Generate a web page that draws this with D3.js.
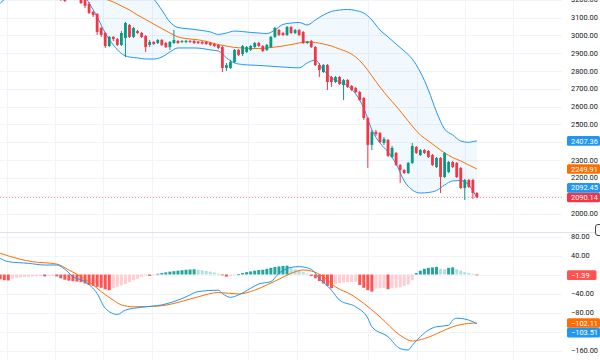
<!DOCTYPE html>
<html><head><meta charset="utf-8">
<script src="https://cdn.jsdelivr.net/npm/d3@7/dist/d3.min.js"></script>
<style>body{margin:0;background:#fff}svg{display:block;font-family:Roboto,"Liberation Sans",sans-serif}</style>
</head><body><svg id="c" width="600" height="360"></svg>
<script>
// ---------------- DATA ----------------
const barCount = 119;               // bars 0..118
const candleFirstBar = 15;          // first candle (earlier ones are above the view)
const opens = [3221,3215,3228,3230,3226,3209,3198,3176,3131,3120,
 3041,3013,2940,2991,2979,2946,2985,3058,2991,3024,
 3013,2996,2946,2963,2957,2974,2957,2934,2957,2968,
 2963,2962,2968,2968,2965,2963,2963,2957,2951,2946,
 2934,2817,2817,2850,2918,2895,2906,2918,2934,2957,
 2940,2918,2934,2991,3030,3013,3002,3047,3013,3030,
 3019,2957,2968,2934,2833,2794,2833,2766,2738,2766,
 2721,2749,2716,2704,2682,2648,2536,2385,2458,2452,
 2396,2413,2317,2340,2272,2244,2227,2284,2373,2328,
 2356,2351,2328,2261,2312,2205,2233,2289,2284,2255,
 2143,2188,2188,2115];
const highs = [3232,3226,3240,3238,3235,3221,3209,3187,3137,3125,
 3047,3019,2996,2996,2985,3024,3075,3064,3047,3030,
 3019,3002,2974,2968,2979,2979,2963,2968,3030,2974,
 2974,2975,2974,2974,2968,2968,2968,2963,2957,2951,
 2940,2845,2862,2923,2923,2946,2940,2946,2963,2963,
 2946,2951,2996,3047,3036,3019,3052,3052,3036,3036,
 3024,2968,2974,2940,2845,2839,2839,2772,2772,2772,
 2755,2755,2721,2710,2688,2654,2542,2469,2469,2458,
 2429,2418,2379,2345,2278,2250,2289,2396,2379,2362,
 2362,2356,2334,2317,2317,2345,2295,2295,2289,2261,
 2194,2194,2194,2121];
const lows = [3193,3187,3205,3208,3206,3176,3153,3120,3103,3002,
 2991,2929,2934,2968,2940,2940,2878,2985,2985,3007,
 2985,2906,2934,2946,2951,2940,2929,2918,2951,2951,
 2957,2956,2957,2951,2951,2949,2946,2940,2934,2923,
 2794,2800,2811,2845,2884,2884,2901,2912,2929,2934,
 2906,2912,2929,2985,2996,2996,2996,3007,3007,2996,
 2951,2951,2929,2828,2766,2789,2693,2710,2732,2721,
 2637,2704,2688,2676,2631,2525,2255,2356,2435,2396,
 2385,2317,2312,2267,2171,2222,2222,2278,2334,2323,
 2334,2312,2267,2255,2115,2199,2227,2255,2199,2138,
 2076,2143,2082,2087];
const closes = [3198,3193,3212,3218,3214,3181,3165,3125,3114,3019,
 3002,2940,2991,2979,2946,3013,3069,2991,3041,3013,
 2991,2934,2963,2951,2974,2946,2934,2963,2974,2957,
 2968,2969,2963,2957,2957,2954,2951,2946,2940,2929,
 2817,2833,2850,2918,2890,2940,2934,2940,2957,2940,
 2912,2946,2991,3041,3002,3002,3047,3013,3030,3002,
 2957,2965,2934,2833,2805,2833,2738,2738,2766,2727,
 2749,2710,2693,2682,2637,2536,2385,2458,2446,2401,
 2418,2323,2368,2272,2244,2227,2284,2379,2340,2356,
 2340,2317,2272,2312,2205,2340,2289,2261,2205,2143,
 2188,2149,2115,2090.14];

// Bollinger bands, read at these bars (null = above the visible range)
const bbBars  = [0,1,2,20,22,24,26,28,30,32,34,36,38,40,42,44,46,48,50,52,54,56,58,60,62,64,66,68,70,72,74,76,78,80,82,84,86,88,90,92,94,96,98,100,102,104,106,108,110,112,114,116,117,118];
const bbUpper = [null,null,null,null,null,null,null,null,null,null,null,3243,3204,3142,3075,3044,3038,3033,3027,3019,3005,3013,3024,3021,3016,3013,3010,3030,3061,3069,3072,3058,3086,3114,3134,3142,3145,3139,3125,3086,3030,2991,2951,2912,2867,2794,2693,2570,2474,2441,2407,2399,2404,2407.36];
const bbBasis = [null,null,null,null,null,null,3204,3187,3165,3142,3114,3089,3063,3038,3013,2991,2982,2977,2971,2960,2948,2940,2932,2929,2926,2926,2929,2934,2940,2948,2957,2963,2960,2951,2940,2923,2906,2878,2833,2772,2710,2654,2603,2547,2491,2441,2407,2373,2340,2314,2295,2272,2261,2249.91];
const bbLower = [3180,3201,3221,3243,3181,3103,3013,2946,2898,2878,2873,2867,2867,2878,2906,2929,2929,2929,2926,2918,2912,2873,2845,2836,2833,2831,2828,2825,2822,2819,2817,2845,2861,2805,2761,2738,2716,2671,2592,2469,2396,2345,2278,2183,2132,2115,2118,2129,2160,2183,2185,2160,2126,2092.45];

// MACD (12,26,9)
const macdBars = [0,2,7,11,14,16,18,21,24,26,29,31,35,40,43,46,49,54,55,57,59,62,64,67,69,72,74,77,79,82,84,88,91,92,96,99,101,102,104,106,108,111,112,113,116,118];
const macdLine = [34,27,23.5,20,20,11,-4.6,-15,-40,-71,-84,-75,-69,-64,-57,-47,-36,-33,-40,-48,-43,-29,-20,-15,2.5,15,16.5,11,-8,-33,-54,-68,-92,-110,-131,-156,-159,-149,-131,-117,-110,-107,-96,-92,-96,-103.51];
const signalBars = [0,5,8,14,17,20,23,25,28,30,33,39,43,46,49,54,59,63,66,69,72,75,77,80,83,87,90,94,99,102,105,109,112,116,118];
const signalLine = [44.7,32,27,22,9.5,-4.6,-22,-36,-54,-64,-68,-66.5,-61,-54,-47,-38,-41,-33,-22,-10,2.5,9.5,7.4,-4.6,-26,-43,-61,-89,-128,-140,-135,-121,-110,-103,-102.11];
const histogram = [-10,-12,-12.5,-9,-7,-6,-5,-4.5,-4,-3.5,
 -3,-4,-3,-2,-4,-8,-11,-13,-14,-15,
 -16,-19,-22,-24,-26,-28,-31,-33,-29,-26,
 -23,-20,-16,-12,-9,-5,-2,-3,-1,1.5,
 3,4.5,6,7,8,9,10,10.5,11,10,
 9,7.5,6,4,2,-1.5,-4.5,-3,-1.5,1,
 3,5,6.5,8,9.5,10,12,14,16,17,
 18,18.5,15,11,8,5,2,-3,-8,-14,
 -19,-24,-29,-20,-18,-17,-16,-15.5,-15,-22,
 -28,-33,-36,-30,-29,-28,-31,-29,-28,-27,
 -24,-21,-12,3,8,12,14,15,16,12,
 11,14,15,11,8,5,3,1.5,-1.39];

// axis ticks
const priceTicks = [2000,2100,2200,2300,2400,2500,2600,2700,2800,2900,3000,3100,3200];
const macdTicks = [-160,-120,-80,-40,0,40,80];
const timeGridBars = [1.6,13.6,25.5,37.5,61.4,73.4,91.1,103.1,115.1,127,139];

// ---------------- LAYOUT ----------------
const svg = d3.select("#c");
const plotR = 562, pTop = 0, pBot = 232, mTop = 233, mBot = 360;
const C = {up:"#089981", down:"#F23645", band:"#2196F3", basis:"#FF6D00",
  macd:"#2196F3", signal:"#FF6D00", grid:"#F0F3FA", text:"#131722"};

const x = d3.scaleLinear().domain([0,118]).range([0.2,476.9]);
const y = d3.scaleLinear().domain([2000,3100]).range([213.5,17.5]);
const ym = d3.scaleLinear().domain([-160,80]).range([350.5,236.5]);

const defs = svg.append("defs");
defs.append("clipPath").attr("id","cp").append("rect").attr("x",0).attr("y",pTop).attr("width",plotR).attr("height",pBot-pTop);
defs.append("clipPath").attr("id","cm").append("rect").attr("x",0).attr("y",mTop).attr("width",plotR).attr("height",mBot-mTop);

// grids
const gp = svg.append("g").attr("clip-path","url(#cp)");
const gm = svg.append("g").attr("clip-path","url(#cm)");
[gp,gm].forEach(g=>{
  g.selectAll("line.v").data(timeGridBars).join("line")
   .attr("x1",d=>Math.round(x(d))+0.5).attr("x2",d=>Math.round(x(d))+0.5)
   .attr("y1",0).attr("y2",360).attr("stroke",C.grid);
});
gp.selectAll("line.h").data(priceTicks).join("line")
  .attr("x1",0).attr("x2",plotR).attr("y1",d=>Math.round(y(d))+0.5).attr("y2",d=>Math.round(y(d))+0.5).attr("stroke",C.grid);
gm.selectAll("line.h").data(macdTicks).join("line")
  .attr("x1",0).attr("x2",plotR).attr("y1",d=>Math.round(ym(d))+0.5).attr("y2",d=>Math.round(ym(d))+0.5).attr("stroke",C.grid);

// Bollinger
const bb = bbBars.map((b,i)=>({b, u:bbUpper[i], m:bbBasis[i], l:bbLower[i]}));
const curve = d3.curveMonotoneX;
gp.append("path").datum(bb).attr("fill","rgba(33,150,243,0.06)")
  .attr("d", d3.area().curve(curve).x(d=>x(d.b)).y0(d=>y(d.l)).y1(d=>d.u==null? -20 : y(d.u)));
const bandLine = key => d3.line().curve(curve).defined(d=>d[key]!=null).x(d=>x(d.b)).y(d=>y(d[key]));
gp.append("path").datum(bb).attr("fill","none").attr("stroke",C.basis).attr("stroke-width",1).attr("d",bandLine("m"));
gp.append("path").datum(bb).attr("fill","none").attr("stroke",C.band).attr("stroke-width",1).attr("d",bandLine("u"));
gp.append("path").datum(bb).attr("fill","none").attr("stroke",C.band).attr("stroke-width",1).attr("d",bandLine("l"));

// candles
const candles = opens.map((o,i)=>({b:candleFirstBar+i,o,h:highs[i],l:lows[i],c:closes[i]}));
const bw = 2.8;
const cg = gp.append("g");
cg.selectAll("line").data(candles).join("line")
  .attr("x1",d=>x(d.b)).attr("x2",d=>x(d.b)).attr("y1",d=>y(d.h)).attr("y2",d=>y(d.l))
  .attr("stroke",d=>d.c>=d.o?C.up:C.down).attr("stroke-width",1);
cg.selectAll("rect").data(candles).join("rect")
  .attr("x",d=>x(d.b)-bw/2).attr("width",bw)
  .attr("y",d=>y(Math.max(d.o,d.c))).attr("height",d=>Math.max(1,Math.abs(y(d.o)-y(d.c))))
  .attr("fill",d=>d.c>=d.o?C.up:C.down);

// last price dotted line
const last = closes[closes.length-1];
gp.append("line").attr("x1",0).attr("x2",plotR).attr("y1",Math.round(y(last))+0.5).attr("y2",Math.round(y(last))+0.5)
  .attr("stroke",C.down).attr("stroke-opacity",0.55).attr("stroke-width",1).attr("stroke-dasharray","1,2");

// MACD histogram
const hcol = (v,p)=> v>=0 ? (p==null||v>p ? "#26A69A":"#B2DFDB") : (p==null||v<p ? "#FF5252":"#FFCDD2");
gm.selectAll("rect").data(histogram).join("rect")
  .attr("x",(d,i)=>x(i)-1.5).attr("width",3)
  .attr("y",d=>Math.min(ym(d),ym(0))).attr("height",d=>Math.max(0.8,Math.abs(ym(d)-ym(0))))
  .attr("fill",(d,i)=>hcol(d,i?histogram[i-1]:null));
const ml = (bars,vals)=>d3.line().curve(curve).x((d,i)=>x(bars[i])).y(d=>ym(d))(vals);
gm.append("path").attr("fill","none").attr("stroke",C.signal).attr("stroke-width",1).attr("d",ml(signalBars,signalLine));
gm.append("path").attr("fill","none").attr("stroke",C.macd).attr("stroke-width",1).attr("d",ml(macdBars,macdLine));

// pane separator
svg.append("line").attr("x1",0).attr("x2",600).attr("y1",232.5).attr("y2",232.5).attr("stroke","#E0E3EB");
// pane button (partly outside the window, as in the reference)
svg.append("rect").attr("x",595.5).attr("y",224.5).attr("width",9).attr("height",11).attr("rx",2.5)
  .attr("fill","#fff").attr("stroke","#131722").attr("stroke-width",0.8);

// value labels
const fmt = v=>d3.format(".2f")(v).replace("-","\u2212");
const boxH = 9.6;
function placeLabels(list){
  const placed=[];
  list.forEach(l=>{
    let yy=l.y;
    placed.forEach(p=>{ if(Math.abs(yy-p.y)<boxH){ yy = yy<=p.y ? p.y-boxH : p.y+boxH; } });
    l.y=yy; placed.push(l);
  });
  return placed;
}
const priceLabels = placeLabels([
  {v:last, y:y(last), c:C.down},
  {v:bbUpper[bbUpper.length-1], y:y(bbUpper[bbUpper.length-1]), c:C.band},
  {v:bbBasis[bbBasis.length-1], y:y(bbBasis[bbBasis.length-1]), c:C.basis},
  {v:bbLower[bbLower.length-1], y:y(bbLower[bbLower.length-1]), c:C.band}]);
const lastHist = histogram[histogram.length-1];
const macdLabels = placeLabels([
  {v:lastHist, y:ym(lastHist), c:"#FF5252"},
  {v:signalLine[signalLine.length-1], y:ym(signalLine[signalLine.length-1]), c:C.signal},
  {v:macdLine[macdLine.length-1], y:ym(macdLine[macdLine.length-1]), c:C.macd}]);
const allLabels = priceLabels.concat(macdLabels);

// tick labels (hidden where a value label sits)
const fs = 7.4;
const tickText = (ticks, sc)=>{
  ticks.forEach(t=>{
    const ty = sc(t);
    if (allLabels.some(l=>Math.abs(l.y-ty)<boxH/2+3.5)) return;
    svg.append("text").attr("x",571).attr("y",ty).attr("dy","0.35em")
      .attr("font-size",fs).attr("fill",C.text).text(fmt(t));
  });
};
tickText(priceTicks, y);
tickText(macdTicks.filter(t=>ym(t)>mTop), ym);

allLabels.forEach(l=>{
  const t = fmt(l.v);
  const w = t.length*4.1+9;
  svg.append("rect").attr("x",567).attr("y",l.y-boxH/2).attr("width",Math.min(33,w)).attr("height",boxH)
    .attr("rx",1.5).attr("fill",l.c);
  svg.append("text").attr("x",571).attr("y",l.y).attr("dy","0.35em").attr("font-size",fs)
    .attr("fill","#fff").text(t);
});
</script></body></html>
